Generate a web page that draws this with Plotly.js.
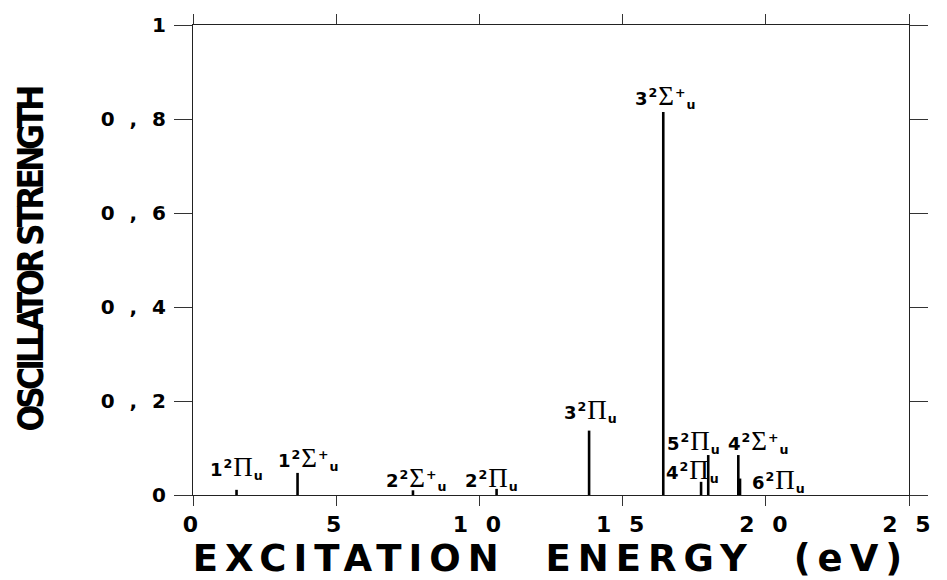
<!DOCTYPE html>
<html>
<head>
<meta charset="utf-8">
<script src="https://cdn.plot.ly/plotly-3.0.1.min.js"></script>
<style>html,body{margin:0;padding:0;background:#fff;}#chart{width:947px;height:580px;}</style>
</head>
<body>
<div id="chart"></div>
<script>
// Transition energies (eV) and oscillator strengths
const states   = ['1²Πu','1²Σ+u','2²Σ+u','2²Πu','3²Πu','3²Σ+u','4²Πu','5²Πu','4²Σ+u','6²Πu'];
const energies = [1.52, 3.65, 7.68, 10.6, 13.83, 16.42, 17.74, 17.99, 19.04, 19.1];
const strengths= [0.011, 0.047, 0.010, 0.013, 0.137, 0.815, 0.028, 0.085, 0.085, 0.035];

const xTickVals = [0,5,10,15,20,25];
const xTickText = ['0','5','1 0','1 5','2 0','2 5'];
const yTickVals = [0,0.2,0.4,0.6,0.8,1];
const yTickText = ['0','0 , 2','0 , 4','0 , 6','0 , 8','1'];

// label placement (left edge x, centre y) in data units
const labelX = [0.52, 2.9, 6.67, 9.43, 12.88, 15.36, 16.45, 16.48, 18.6, 19.45];
const labelY = [0.058, 0.077, 0.036, 0.036, 0.18, 0.848, 0.053, 0.113, 0.113, 0.03];

const SER = "<span style=\"font-family:'Liberation Serif','DejaVu Serif',serif;font-weight:normal;font-size:27px\">";
function fmtLabel(s){
  const n = s[0];
  const greek = s[2];
  const plus = s.indexOf('+') >= 0;
  return n + '<sup>2</sup>' + SER + greek + '</span>' + (plus ? '<sup>+</sup>' : '') + '<sub>u</sub>';
}
function spaced(t, px){ return '<span style="letter-spacing:' + px + 'px">' + t + '</span>'; }

const xs = [], ys = [];
energies.forEach((e,i)=>{ xs.push(e,e,null); ys.push(0,strengths[i],null); });

const trace = {
  x: xs, y: ys, type:'scatter', mode:'lines',
  line:{color:'#000', width:2.6}, hoverinfo:'skip', showlegend:false
};

const annotations = states.map((s,i)=>({
  x: labelX[i], y: labelY[i], xref:'x', yref:'y',
  text: spaced(fmtLabel(s), 1), showarrow:false, xanchor:'left', yanchor:'middle',
  font:{family:"'DejaVu Sans', sans-serif", size:18, color:'#000', weight:'bold'}
}));

const layout = {
  width:947, height:580,
  margin:{l:193, r:38, t:25, b:85},
  paper_bgcolor:'#fff', plot_bgcolor:'#fff',
  showlegend:false,
  font:{family:"'DejaVu Sans', sans-serif", color:'#000'},
  xaxis:{
    range:[0,25], tickmode:'array', tickvals:xTickVals, ticktext:xTickText.map(t=>spaced(t,5)),
    showline:true, linecolor:'#222', linewidth:1, mirror:'ticks',
    ticks:'outside', ticklen:10, tickcolor:'#333', tickwidth:1,
    showgrid:false, zeroline:false,
    tickfont:{family:"'DejaVu Sans', sans-serif", size:22, weight:'bold', color:'#000'},
    title:{text:spaced('EXCITATION  ENERGY  (eV)', 7), standoff:1,
      font:{family:"'DejaVu Sans', sans-serif", size:37, weight:'bold', color:'#000'}}
  },
  yaxis:{
    range:[0,1], tickmode:'array', tickvals:yTickVals, ticktext:yTickText.map(t=>spaced(t,4)),
    showline:true, linecolor:'#222', linewidth:1, mirror:'ticks',
    ticks:'outside', ticklen:18, tickcolor:'#333', tickwidth:1,
    showgrid:false, zeroline:false,
    tickfont:{family:"'DejaVu Sans', sans-serif", size:20, weight:'bold', color:'#000'},
    title:{text:spaced('OSCILLATOR STRENGTH', -4), standoff:46,
      font:{family:"'Liberation Sans Narrow','DejaVu Sans Condensed', sans-serif", size:35, weight:'bold', color:'#000'}}
  },
  annotations: annotations
};

Plotly.newPlot('chart', [trace], layout, {displayModeBar:false, staticPlot:true});
</script>
</body>
</html>
